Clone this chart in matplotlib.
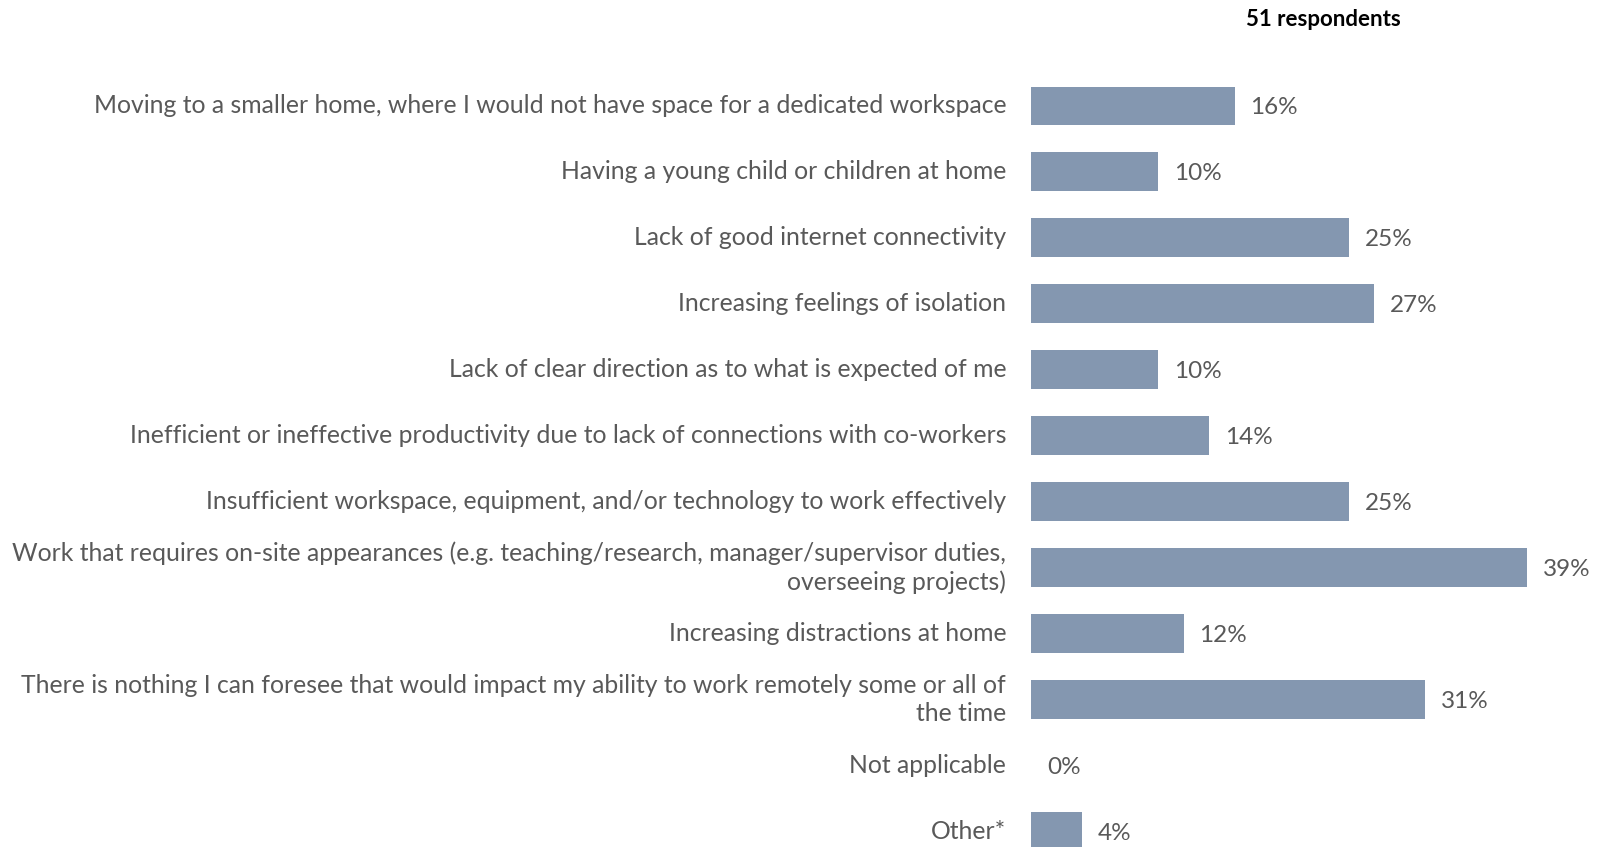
import matplotlib.pyplot as plt

# Survey categories (top to bottom) and percentages
categories = [
    "Moving to a smaller home, where I would not have space for a dedicated workspace",
    "Having a young child or children at home",
    "Lack of good internet connectivity",
    "Increasing feelings of isolation",
    "Lack of clear direction as to what is expected of me",
    "Inefficient or ineffective productivity due to lack of connections with co-workers",
    "Insufficient workspace, equipment, and/or technology to work effectively",
    "Work that requires on-site appearances (e.g. teaching/research, manager/supervisor duties,\noverseeing projects)",
    "Increasing distractions at home",
    "There is nothing I can foresee that would impact my ability to work remotely some or all of\nthe time",
    "Not applicable",
    "Other*",
]
values = [16, 10, 25, 27, 10, 14, 25, 39, 12, 31, 0, 4]
note = "51 respondents"

plt.rcParams['font.family'] = ['Lato', 'DejaVu Sans']
W, H = 1598, 847
fig = plt.figure(figsize=(W / 100, H / 100), dpi=100)

# axes placed in pixel terms; bottom bar runs slightly off the figure like the reference
left, right = 1031, 1031 + 12.72 * 40
top, bottom = 73, 864
ax = fig.add_axes([left / W, (H - bottom) / H, (right - left) / W, (bottom - top) / H])

bar_color = '#8497b0'
text_color = '#595959'
pos = list(range(len(categories)))
ax.barh(pos, values, height=0.59, color=bar_color)
ax.set_xlim(0, 40)
ax.set_ylim(len(categories) - 0.5, -0.5)
ax.axis('off')

for p, v, c in zip(pos, values, categories):
    ax.text(v + 1.25, p + 0.03, f"{v}%", ha='left', va='center', fontsize=17.5, color=text_color)
    ax.text(-1.95, p, c, ha='right', va='center', fontsize=17.85, color=text_color,
            linespacing=1.28)

fig.text(1323 / W, 1 - 19 / H, note, ha='center', va='center', fontsize=16,
         fontweight='bold', color='black')

fig.savefig('out.png', dpi=100)
